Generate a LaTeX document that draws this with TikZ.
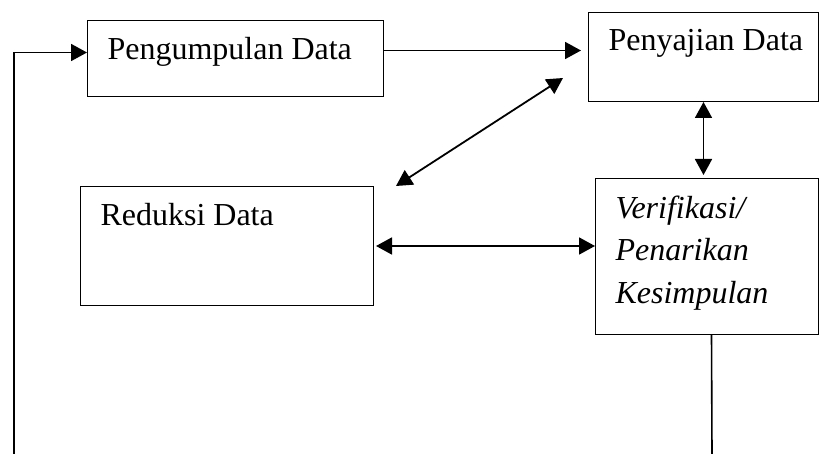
\documentclass[tikz,border=0pt]{standalone}
\usepackage{fontspec}
\setmainfont{Liberation Serif}[ItalicFont={Liberation Serif Italic}, BoldFont={Liberation Serif Bold}]
\usetikzlibrary{arrows.meta, positioning, calc}

% isi kotak: teks di kiri atas
\newcommand{\isikotak}[3]{\parbox[c][#2][t]{#1}{\raggedright\leftskip=20pt\relax #3}}

\tikzset{
  kotak/.style={draw, line width=1pt, anchor=north west, inner xsep=0pt, inner ysep=17pt,
    font=\fontsize{32}{42.5}\selectfont},
  panah/.style={line width=1.8pt, -{Triangle[length=16pt,width=17pt]}},
  ganda/.style={line width=1.8pt, {Triangle[length=16pt,width=17pt]}-{Triangle[length=16pt,width=17pt]}},
}

\begin{document}
\begin{tikzpicture}[x=1pt, y=-1pt]
  \useasboundingbox (0,0) rectangle (819,454);

  % kotak
  \node[kotak] (kumpul) at (87,20)  {\isikotak{296pt}{42pt}{Pengumpulan Data}};
  \node[kotak] (saji)   at (588,12) {\isikotak{230pt}{55pt}{Penyajian Data}};
  \node[kotak] (reduksi) at (80,186) {\isikotak{293pt}{85pt}{Reduksi Data}};
  \node[kotak] (verif)  at (595,178) {\isikotak{223pt}{122pt}{\textit{Verifikasi/}\\\textit{Penarikan}\\\textit{Kesimpulan}}};

  \coordinate (kiriBawah) at (14,454);
  \coordinate (kananBawah) at (712,454);

  % panah
  \draw[panah] (kiriBawah) |- ([yshift=6pt]kumpul.west);
  \draw[panah, shorten >=7pt] ([yshift=8pt]kumpul.east) -- ([yshift=8pt]kumpul.east -| saji.west);
  \draw[ganda] ([xshift=22pt]reduksi.north east) -- ([xshift=-25pt,yshift=24pt]saji.south west);
  \draw[ganda, shorten >=3pt] (saji.south) -- (saji.south |- verif.north);
  \draw[ganda, shorten <=2pt] (reduksi.east) -- (reduksi.east -| verif.west);
  \draw[line width=1.6pt] ([xshift=4.5pt]verif.south) -- (kananBawah);
\end{tikzpicture}
\end{document}
